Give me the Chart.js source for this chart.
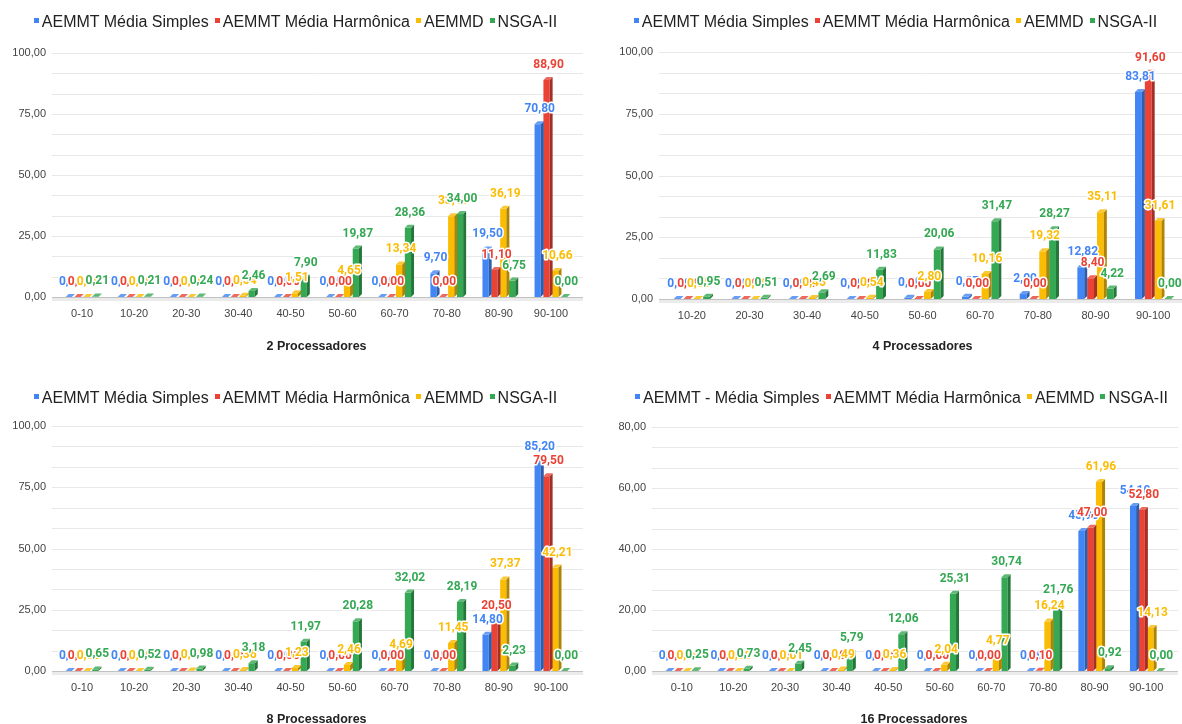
<!DOCTYPE html>
<html>
<head>
<meta charset="utf-8">
<script src="https://cdn.jsdelivr.net/npm/chart.js@4.4.1/dist/chart.umd.min.js"></script>
<style>
  html, body { margin: 0; padding: 0; background: #fff; }
  body { width: 1182px; height: 724px; position: relative; overflow: hidden;
         font-family: "Liberation Sans", Arial, sans-serif; }
  canvas { position: absolute; }
  .legend { position: absolute; height: 20px; line-height: 20px; text-align: center;
            font-size: 16px; color: #222; white-space: nowrap; }
  .legend .item { display: inline-block; margin-left: 6px; }
  .legend .item:first-child { margin-left: 0; }
  .legend i { display: inline-block; width: 5px; height: 5px; margin-right: 3px;
              vertical-align: middle; position: relative; top: -2px; }
</style>
</head>
<body>
<script>
// Faixas (categorias) de cada gráfico
const faixas0a100 = ['0-10', '10-20', '20-30', '30-40', '40-50', '50-60', '60-70', '70-80', '80-90', '90-100'];
const faixas10a100 = ['10-20', '20-30', '30-40', '40-50', '50-60', '60-70', '70-80', '80-90', '90-100'];

// Nomes das séries
const seriesNomes = ['AEMMT Média Simples', 'AEMMT Média Harmônica', 'AEMMD', 'NSGA-II'];
const seriesNomes16 = ['AEMMT - Média Simples', 'AEMMT Média Harmônica', 'AEMMD', 'NSGA-II'];

// 2 processadores
const simples2   = [0, 0, 0, 0, 0, 0, 0, 9.70, 19.50, 70.80];
const harmonica2 = [0, 0, 0, 0, 0, 0, 0, 0.00, 11.10, 88.90];
const aemmd2     = [0, 0, 0, 0.54, 1.51, 4.65, 13.34, 33.11, 36.19, 10.66];
const nsga2      = [0.21, 0.21, 0.24, 2.46, 7.90, 19.87, 28.36, 34.00, 6.75, 0.00];

// 4 processadores
const simples4   = [0, 0, 0, 0, 0.50, 0.87, 2.00, 12.82, 83.81];
const harmonica4 = [0, 0, 0, 0, 0.00, 0.00, 0.00, 8.40, 91.60];
const aemmd4     = [0, 0, 0.45, 0.54, 2.80, 10.16, 19.32, 35.11, 31.61];
const nsga4      = [0.95, 0.51, 2.69, 11.83, 20.06, 31.47, 28.27, 4.22, 0.00];

// 8 processadores
const simples8   = [0, 0, 0, 0, 0, 0, 0, 0, 14.80, 85.20];
const harmonica8 = [0, 0, 0, 0, 0, 0, 0, 0, 20.50, 79.50];
const aemmd8     = [0, 0, 0.23, 0.36, 1.23, 2.46, 4.69, 11.45, 37.37, 42.21];
const nsga8      = [0.65, 0.52, 0.98, 3.18, 11.97, 20.28, 32.02, 28.19, 2.23, 0.00];

// 16 processadores
const simples16   = [0, 0, 0, 0, 0, 0, 0, 0, 45.90, 54.10];
const harmonica16 = [0, 0, 0, 0, 0, 0, 0, 0.10, 47.00, 52.80];
const aemmd16     = [0, 0, 0.01, 0.49, 0.36, 2.04, 4.77, 16.24, 61.96, 14.13];
const nsga16      = [0.25, 0.73, 2.45, 5.79, 12.06, 25.31, 30.74, 21.76, 0.92, 0.00];

// Escalas do eixo Y
const yMax100 = 100;
const yMax80 = 80;

// Estilo
const CORES = ['#4285F4', '#EA4335', '#FBBC04', '#34A853'];
const FONTE = '"Liberation Sans", Arial, sans-serif';
const FONTE_ROTULO = 'Roboto, "Liberation Sans", Arial, sans-serif';
const PROF = 3; // profundidade do efeito 3D

function misturar(hex, alvo, f) {
  const n = parseInt(hex.slice(1), 16);
  const c = [(n >> 16) & 255, (n >> 8) & 255, n & 255];
  const m = c.map(v => Math.round(v + (alvo - v) * f));
  return `rgb(${m[0]},${m[1]},${m[2]})`;
}

const fmt = v => v.toFixed(2).replace('.', ',');

// Plugin: grade, piso, faces laterais/topo das colunas e rótulos de valor
const colunas3d = {
  id: 'colunas3d',
  beforeDatasetsDraw(chart) {
    const { ctx, chartArea: a, scales: { y } } = chart;
    const x0 = Math.max(0, a.left - 4), x1 = Math.min(chart.width, a.right + 6);
    ctx.save();
    y.ticks.forEach(t => {
      const py = Math.round(y.getPixelForValue(t.value)) + 0.5;
      if (t.value === 0) return;
      ctx.strokeStyle = '#e8e8e8';
      ctx.lineWidth = 1;
      ctx.beginPath(); ctx.moveTo(x0, py); ctx.lineTo(x1, py); ctx.stroke();
    });
    const y0 = Math.round(y.getPixelForValue(0));
    ctx.fillStyle = '#ebebeb';
    ctx.fillRect(x0, y0 + 1, x1 - x0, 3);
    ctx.strokeStyle = '#c2c2c2';
    ctx.beginPath(); ctx.moveTo(x0, y0 + 0.5); ctx.lineTo(x1, y0 + 0.5); ctx.stroke();
    ctx.restore();
  },
  afterDatasetDraw(chart, args) {
    const ctx = chart.ctx;
    const cor = chart.data.datasets[args.index].backgroundColor;
    const lado = misturar(cor, 0, 0.3);
    const topo = misturar(cor, 255, 0.2);
    ctx.save();
    args.meta.data.forEach(bar => {
      const { x, y, base, width } = bar.getProps(['x', 'y', 'base', 'width'], true);
      const l = x - width / 2, r = x + width / 2;
      ctx.fillStyle = lado;
      ctx.beginPath();
      ctx.moveTo(r, y); ctx.lineTo(r + PROF, y - PROF);
      ctx.lineTo(r + PROF, base - PROF); ctx.lineTo(r, base);
      ctx.closePath(); ctx.fill();
      ctx.fillStyle = topo;
      ctx.beginPath();
      ctx.moveTo(l, y); ctx.lineTo(l + PROF, y - PROF);
      ctx.lineTo(r + PROF, y - PROF); ctx.lineTo(r, y);
      ctx.closePath(); ctx.fill();
    });
    ctx.restore();
  },
  afterDatasetsDraw(chart) {
    const ctx = chart.ctx;
    ctx.save();
    ctx.font = 'bold 12px ' + FONTE_ROTULO;
    ctx.textAlign = 'center';
    ctx.textBaseline = 'middle';
    ctx.lineJoin = 'round';
    ctx.lineWidth = 3;
    ctx.strokeStyle = '#fff';
    chart.data.datasets.forEach((ds, i) => {
      chart.getDatasetMeta(i).data.forEach((bar, j) => {
        const txt = fmt(ds.data[j]);
        const px = bar.x + 2, py = bar.y - 15;
        ctx.strokeText(txt, px, py);
        ctx.fillStyle = ds.backgroundColor;
        ctx.fillText(txt, px, py);
      });
    });
    ctx.restore();
  }
};

function legenda(nomes, box, centroY, deslocX) {
  const d = document.createElement('div');
  d.className = 'legend';
  d.style.left = (box[0] + (deslocX || 0)) + 'px';
  d.style.width = '591px';
  d.style.top = (centroY - 10) + 'px';
  d.innerHTML = nomes.map((n, i) =>
    `<span class="item"><i style="background:${CORES[i]}"></i>${n}</span>`).join('');
  document.body.appendChild(d);
}

// box: [x, y, largura, altura] do canvas; area: [esq, topo, dir, base] da área de plotagem
function painel({ box, area, tituloY, legendaY, legendaDx, faixas, series, nomes, yMax, titulo }) {
  const cv = document.createElement('canvas');
  cv.width = box[2]; cv.height = box[3];
  cv.style.left = box[0] + 'px'; cv.style.top = box[1] + 'px';
  document.body.appendChild(cv);
  legenda(nomes, box, legendaY, legendaDx);

  const yLarg = area[0] - box[0];
  const xAlt = box[1] + box[3] - area[3];
  const tituloLH = 13;
  const tituloPB = box[1] + box[3] - tituloY - tituloLH / 2;
  const major = yMax / 4;

  new Chart(cv, {
    type: 'bar',
    data: {
      labels: faixas,
      datasets: series.map((d, i) => ({
        label: nomes[i], data: d, backgroundColor: CORES[i], borderWidth: 0,
        barPercentage: 0.7, categoryPercentage: 0.68
      }))
    },
    options: {
      responsive: false, animation: false, devicePixelRatio: 1,
      layout: { padding: { top: area[1] - box[1], right: box[0] + box[2] - area[2], left: 0, bottom: 0 } },
      plugins: { legend: { display: false }, tooltip: { enabled: false } },
      scales: {
        x: {
          grid: { display: false, drawTicks: false }, border: { display: false },
          ticks: { font: { family: FONTE, size: 11 }, color: '#444', padding: 10, maxRotation: 0, autoSkip: false },
          title: { display: true, text: titulo, color: '#222',
                   font: { family: FONTE, size: 12.5, weight: 'bold', lineHeight: tituloLH / 12.5 },
                   padding: { top: 0, bottom: tituloPB } },
          afterFit(s) { s.height = xAlt; }
        },
        y: {
          min: 0, max: yMax,
          grid: { display: false, drawTicks: false }, border: { display: false },
          ticks: {
            stepSize: yMax / 12, autoSkip: false, padding: 10, color: '#444',
            font: { family: FONTE, size: 11 },
            callback: v => { const k = v / major; return Math.abs(k - Math.round(k)) < 1e-6 ? fmt(v) : ''; }
          },
          afterFit(s) { s.width = yLarg; }
        }
      }
    },
    plugins: [colunas3d]
  });
}

painel({ box: [0, 0, 591, 370], area: [56, 53, 577, 297], tituloY: 347, legendaY: 22,
         faixas: faixas0a100, series: [simples2, harmonica2, aemmd2, nsga2],
         nomes: seriesNomes, yMax: yMax100, titulo: '2 Processadores' });
painel({ box: [600, 0, 582, 370], area: [663, 52, 1182, 299], tituloY: 347, legendaY: 22,
         faixas: faixas10a100, series: [simples4, harmonica4, aemmd4, nsga4],
         nomes: seriesNomes, yMax: yMax100, titulo: '4 Processadores' });
painel({ box: [0, 370, 591, 370], area: [56, 426, 577, 671], tituloY: 720, legendaY: 398,
         faixas: faixas0a100, series: [simples8, harmonica8, aemmd8, nsga8],
         nomes: seriesNomes, yMax: yMax100, titulo: '8 Processadores' });
painel({ box: [600, 370, 582, 370], area: [656, 427, 1172, 671], tituloY: 720, legendaY: 398, legendaDx: 6,
         faixas: faixas0a100, series: [simples16, harmonica16, aemmd16, nsga16],
         nomes: seriesNomes16, yMax: yMax80, titulo: '16 Processadores' });
</script>
</body>
</html>
